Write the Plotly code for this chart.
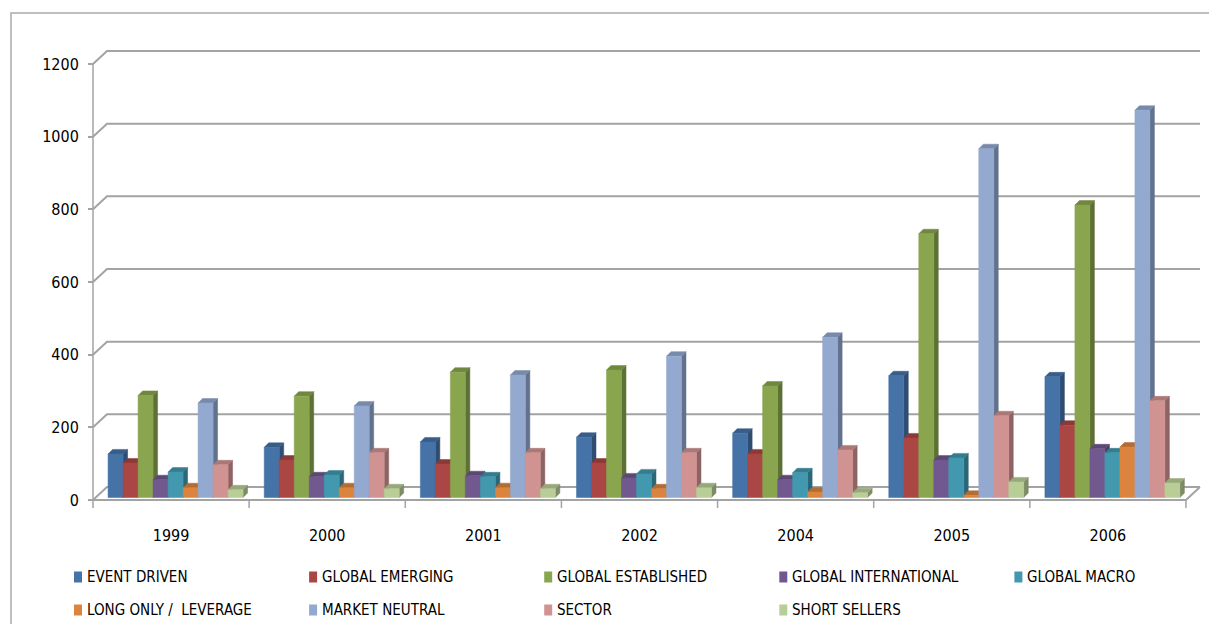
import plotly.graph_objects as go

# ---------------- data ----------------
categories = ["1999", "2000", "2001", "2002", "2004", "2005", "2006"]

event_driven = [120, 138, 153, 166, 177, 335, 332]
global_emerging = [95, 103, 92, 95, 120, 164, 199]
global_established = [281, 279, 345, 351, 307, 726, 805]
global_international = [49, 57, 60, 54, 49, 103, 134]
global_macro = [70, 62, 57, 65, 68, 109, 123]
long_only_leverage = [27, 27, 27, 24, 15, 6, 139]
market_neutral = [260, 252, 337, 389, 441, 960, 1066]
sector = [90, 123, 123, 123, 131, 225, 266]
short_sellers = [21, 24, 24, 27, 13, 43, 40]

series_names = ["EVENT DRIVEN", "GLOBAL EMERGING", "GLOBAL ESTABLISHED",
                "GLOBAL INTERNATIONAL", "GLOBAL MACRO", "LONG ONLY /  LEVERAGE",
                "MARKET NEUTRAL", "SECTOR", "SHORT SELLERS"]
series_values = [event_driven, global_emerging, global_established,
                 global_international, global_macro, long_only_leverage,
                 market_neutral, sector, short_sellers]
colors = ["#4572A7", "#AA4643", "#89A54E", "#71588F", "#4198AF",
          "#DB843D", "#93A9CF", "#D19392", "#B9CD96"]

y_ticks = [0, 200, 400, 600, 800, 1000, 1200]

# ---------------- geometry (layout constants) ----------------
W, H = 1209, 624
PL, PR, PT, PB = 83, 1203, 40, 514          # plot area in px
X0_PX, CAT_PX = 93, 156.14                  # px of x=-0.5, px per category
Y0_PX, VAL_PX = 500, 0.36333                # px of y=0, px per value unit

def xdata(px):
    return -0.5 + (px - X0_PX) / CAT_PX

def ydata(py):
    return (Y0_PX - py) / VAL_PX

def paper_x(px):
    return (px - PL) / (PR - PL)

def paper_y(py):
    return (PB - py) / (PB - PT)

WALL_DX = 14 / CAT_PX      # depth of the 3D floor/wall
WALL_DY = 13 / VAL_PX
BAR_DX = 4.5 / CAT_PX      # depth of each bar
BAR_DY = 4.5 / VAL_PX
BAR_W = 15 / CAT_PX
GROUP_LEFT = -63 / CAT_PX
BAR_BASE = 2.5 / VAL_PX

GRID = "#A3A3A3"
FONT = "Liberation Sans Narrow, DejaVu Sans Condensed, Arial Narrow, sans-serif"

def shade(hexc, f):
    r, g, b = int(hexc[1:3], 16), int(hexc[3:5], 16), int(hexc[5:7], 16)
    return "rgb(%d,%d,%d)" % (int(r * f), int(g * f), int(b * f))

fig = go.Figure()

# ---------------- back wall gridlines & floor ----------------
gx, gy = [], []
xl, xr = -0.5, len(categories) - 0.5
for t in y_ticks:
    gx += [xl, xl + WALL_DX, xr + WALL_DX, None]
    gy += [t, t + WALL_DY, t + WALL_DY, None]
# right diagonal of floor and front edge
gx += [xr, xr + WALL_DX, None, xl, xr, None]
gy += [0, WALL_DY, None, 0, 0, None]
fig.add_trace(go.Scatter(x=gx, y=gy, mode="lines", line=dict(color=GRID, width=2),
                         hoverinfo="skip", showlegend=False))

# axis line + category boundary ticks
tick_bottom = ydata(508)
ax, ay = [xl, xl, None], [tick_bottom, y_ticks[-1], None]
for i in range(len(categories)):
    b = i + 0.5
    ax += [b, b, None]
    ay += [0, tick_bottom, None]
fig.add_trace(go.Scatter(x=ax, y=ay, mode="lines", line=dict(color=GRID, width=1.5),
                         hoverinfo="skip", showlegend=False))

# ---------------- 3D bars ----------------
for k, (name, vals, col) in enumerate(zip(series_names, series_values, colors)):
    sx, sy, tx, ty, fx, fy = [], [], [], [], [], []
    for i, v in enumerate(vals):
        L = i + GROUP_LEFT + k * BAR_W
        R = L + BAR_W
        top = BAR_BASE + v
        sx += [R, R + BAR_DX, R + BAR_DX, R, R, None]
        sy += [BAR_BASE, BAR_BASE + BAR_DY, top + BAR_DY, top, BAR_BASE, None]
        tx += [L, R, R + BAR_DX, L + BAR_DX, L, None]
        ty += [top, top, top + BAR_DY, top + BAR_DY, top, None]
        fx += [L, R, R, L, L, None]
        fy += [BAR_BASE, BAR_BASE, top, top, BAR_BASE, None]
    side_c, top_c = shade(col, 0.68), shade(col, 0.82)
    fig.add_trace(go.Scatter(x=sx, y=sy, mode="lines", fill="toself", fillcolor=side_c,
                             line=dict(color=side_c, width=0.5), hoverinfo="skip",
                             showlegend=False))
    fig.add_trace(go.Scatter(x=tx, y=ty, mode="lines", fill="toself", fillcolor=top_c,
                             line=dict(color=top_c, width=0.5), hoverinfo="skip",
                             showlegend=False))
    fig.add_trace(go.Scatter(x=fx, y=fy, mode="lines", fill="toself", fillcolor=col,
                             line=dict(color=col, width=0.5), name=name,
                             hoverinfo="name", showlegend=False))

# ---------------- legend (manual, Excel-like) ----------------
shapes, annotations = [], []
LEG_X0, LEG_DX = 74, 235.1
LEG_ROWS = [577, 610]
for k, (name, col) in enumerate(zip(series_names, colors)):
    row, colm = divmod(k, 5)
    mx = LEG_X0 + colm * LEG_DX
    my = LEG_ROWS[row]
    shapes.append(dict(type="rect", xref="paper", yref="paper",
                       x0=paper_x(mx), x1=paper_x(mx + 8),
                       y0=paper_y(my - 5.5), y1=paper_y(my + 5.5),
                       fillcolor=col, line=dict(width=0)))
    annotations.append(dict(text=name, xref="paper", yref="paper",
                            x=paper_x(mx + 11), y=paper_y(my), xanchor="left",
                            yanchor="middle", showarrow=False,
                            font=dict(family=FONT, size=15, color="#000000")))

# chart area border (top and left edges visible)
shapes.append(dict(type="path", xref="paper", yref="paper",
                   path="M %f,%f L %f,%f L %f,%f" % (paper_x(11), paper_y(640),
                                                     paper_x(11), paper_y(13),
                                                     paper_x(1220), paper_y(13)),
                   line=dict(color="#ABABAB", width=1.5)))

fig.update_layout(
    width=W, height=H,
    margin=dict(l=PL, r=W - PR, t=PT, b=H - PB),
    paper_bgcolor="white", plot_bgcolor="white",
    showlegend=False,
    shapes=shapes, annotations=annotations,
    font=dict(family=FONT, size=16, color="#000000"),
    xaxis=dict(range=[xdata(PL), xdata(PR)], tickvals=list(range(len(categories))),
               ticktext=categories, showgrid=False, zeroline=False, showline=False,
               ticks="", ticklabelstandoff=10, tickfont=dict(size=16)),
    yaxis=dict(range=[ydata(PB), ydata(PT)], tickvals=y_ticks,
               ticktext=[str(t) for t in y_ticks], showgrid=False, zeroline=False,
               showline=False, ticks="outside", ticklen=5, tickcolor=GRID, tickwidth=1.5,
               anchor="free", position=paper_x(X0_PX), ticklabelstandoff=6,
               tickfont=dict(size=16)),
)

fig.write_html("out.html")
